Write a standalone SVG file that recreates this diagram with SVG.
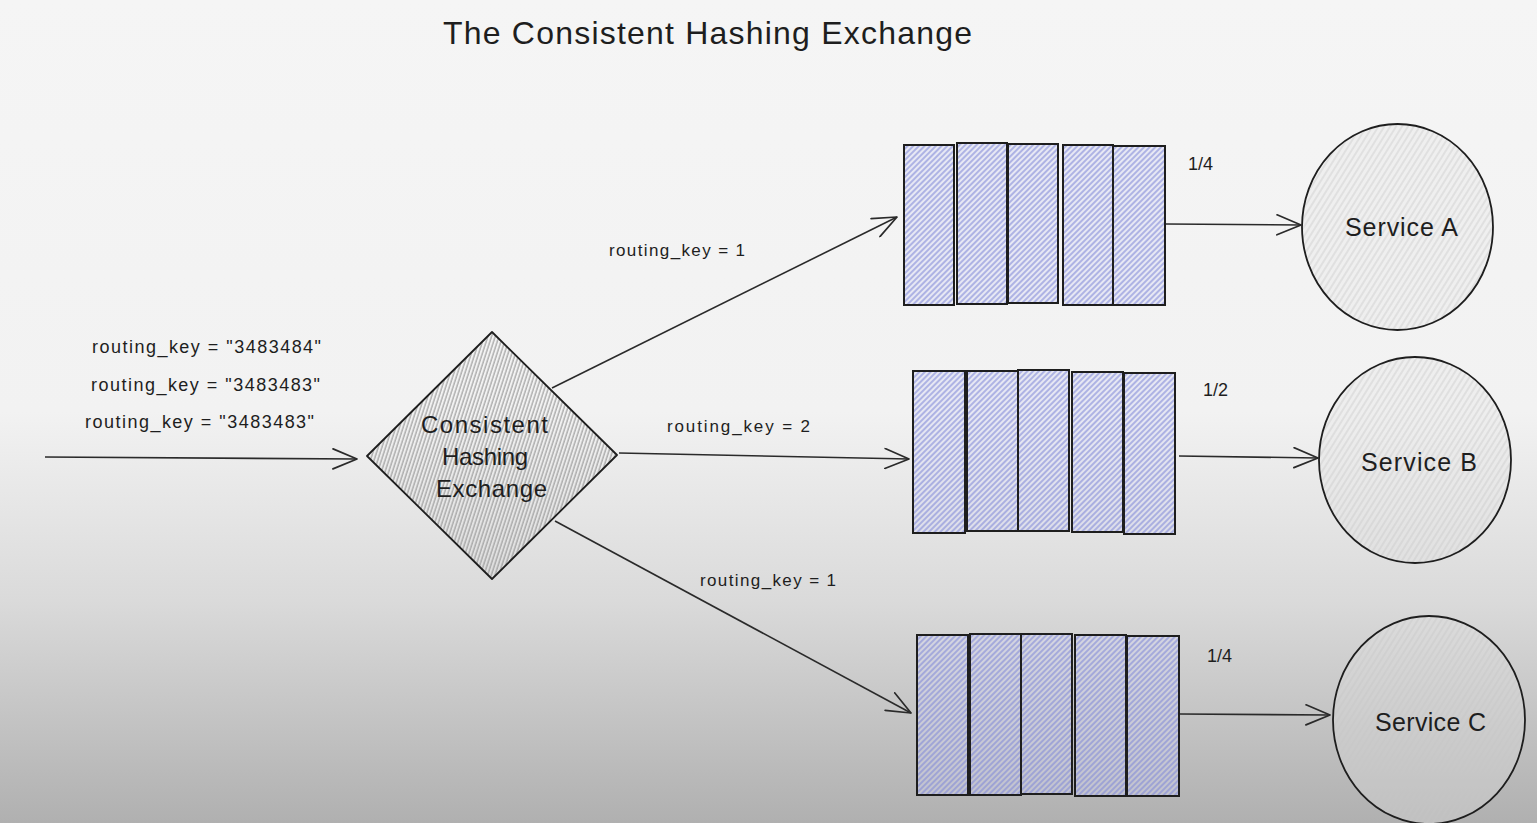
<svg xmlns="http://www.w3.org/2000/svg" width="1537" height="823" viewBox="0 0 1537 823">
<style>
  .txt{font-family:"Liberation Sans",Arial,sans-serif;fill:#1e1e1e}
  .cell{fill:url(#hBlue);stroke:#1e1e1e;stroke-width:2}
  .conn{fill:none;stroke:#2a2a2a;stroke-width:1.6;marker-end:url(#arr)}
  .svc{fill:url(#hGray);stroke:#1e1e1e;stroke-width:1.8}
</style>
<defs>
  <linearGradient id="bg" gradientUnits="userSpaceOnUse" x1="0" y1="0" x2="0" y2="823">
    <stop offset="0" stop-color="#f5f5f5"/>
    <stop offset="0.5" stop-color="#f2f2f2"/>
    <stop offset="0.73" stop-color="#dadada"/>
    <stop offset="1" stop-color="#b0b0b0"/>
  </linearGradient>
  <pattern id="hBlue" width="4" height="4" patternUnits="userSpaceOnUse" patternTransform="rotate(45)">
    <rect width="4" height="4" fill="#d4d8f6" fill-opacity="0.4"/>
    <line x1="1" y1="0" x2="1" y2="4" stroke="#8189d8" stroke-width="1.5" stroke-opacity="0.75"/>
  </pattern>
  <pattern id="hDia" width="3.5" height="4" patternUnits="userSpaceOnUse" patternTransform="rotate(18)">
    <line x1="1" y1="0" x2="1" y2="4" stroke="#9a9a9a" stroke-width="1.4" stroke-opacity="0.8"/>
  </pattern>
  <pattern id="hGray" width="5" height="5" patternUnits="userSpaceOnUse" patternTransform="rotate(32)">
    <rect width="5" height="5" fill="#e6e6e6" fill-opacity="0.3"/>
    <line x1="1" y1="0" x2="1" y2="5" stroke="#c4c4c4" stroke-width="1.2" stroke-opacity="0.6"/>
  </pattern>
  <marker id="arr" markerUnits="userSpaceOnUse" viewBox="0 0 26 22" markerWidth="26" markerHeight="22" refX="25" refY="11" orient="auto">
    <path d="M1,1 L25,11 L1,21" fill="none" stroke="#2a2a2a" stroke-width="1.7" stroke-linecap="round" stroke-linejoin="round"/>
  </marker>
</defs>

<rect width="1537" height="823" fill="url(#bg)"/>

<g id="title">
  <text class="txt" x="443" y="44" font-size="32" textLength="529" lengthAdjust="spacing">The Consistent Hashing Exchange</text>
</g>

<g id="connectors">
  <path class="conn" d="M45,457 L357,459"/>
  <path class="conn" d="M552,388 L897,217"/>
  <path class="conn" d="M619,453 L909,459"/>
  <path class="conn" d="M555,521 L911,713"/>
  <path class="conn" d="M1166,224 L1301,225"/>
  <path class="conn" d="M1179,456 L1318,458"/>
  <path class="conn" d="M1180,714 L1330,715"/>
</g>

<g id="input-labels">
  <text class="txt" x="92" y="353" font-size="18" textLength="229" lengthAdjust="spacing">routing_key = "3483484"</text>
  <text class="txt" x="91" y="391" font-size="18" textLength="229" lengthAdjust="spacing">routing_key = "3483483"</text>
  <text class="txt" x="85" y="428" font-size="18" textLength="229" lengthAdjust="spacing">routing_key = "3483483"</text>
</g>

<g id="edge-labels">
  <text class="txt" x="609" y="256" font-size="17" textLength="136" lengthAdjust="spacing">routing_key = 1</text>
  <text class="txt" x="667" y="432" font-size="17" textLength="143" lengthAdjust="spacing">routing_key = 2</text>
  <text class="txt" x="700" y="586" font-size="17" textLength="136" lengthAdjust="spacing">routing_key = 1</text>
</g>

<g id="exchange">
  <path d="M492,332 L617,455 L492,579 L367,456 Z" fill="url(#hDia)" stroke="#1e1e1e" stroke-width="1.8" stroke-linejoin="round"/>
  <text class="txt" x="421" y="433" font-size="24" textLength="127" lengthAdjust="spacing">Consistent</text>
  <text class="txt" x="442" y="465" font-size="24" textLength="86" lengthAdjust="spacing">Hashing</text>
  <text class="txt" x="436" y="497" font-size="24" textLength="111" lengthAdjust="spacing">Exchange</text>
</g>

<g id="queue-a">
  <rect class="cell" x="904" y="145" width="50" height="160"/>
  <rect class="cell" x="957" y="143" width="50" height="161"/>
  <rect class="cell" x="1008" y="144" width="50" height="159"/>
  <rect class="cell" x="1063" y="145" width="50" height="160"/>
  <rect class="cell" x="1113" y="146" width="52" height="159"/>
  <text class="txt" x="1188" y="170" font-size="18">1/4</text>
</g>

<g id="queue-b">
  <rect class="cell" x="913" y="371" width="52" height="162"/>
  <rect class="cell" x="967" y="371" width="51" height="160"/>
  <rect class="cell" x="1018" y="370" width="51" height="161"/>
  <rect class="cell" x="1072" y="372" width="51" height="160"/>
  <rect class="cell" x="1124" y="373" width="51" height="161"/>
  <text class="txt" x="1203" y="396" font-size="18">1/2</text>
</g>

<g id="queue-c">
  <rect class="cell" x="917" y="635" width="51" height="160"/>
  <rect class="cell" x="970" y="634" width="51" height="161"/>
  <rect class="cell" x="1021" y="634" width="51" height="160"/>
  <rect class="cell" x="1075" y="635" width="51" height="161"/>
  <rect class="cell" x="1127" y="636" width="52" height="160"/>
  <text class="txt" x="1207" y="662" font-size="18">1/4</text>
</g>

<g id="service-a">
  <ellipse class="svc" cx="1397.5" cy="227" rx="95.5" ry="103"/>
  <text class="txt" x="1345" y="236" font-size="25" textLength="113" lengthAdjust="spacing">Service A</text>
</g>

<g id="service-b">
  <ellipse class="svc" cx="1415" cy="460" rx="96" ry="103"/>
  <text class="txt" x="1361" y="471" font-size="25" textLength="116" lengthAdjust="spacing">Service B</text>
</g>

<g id="service-c">
  <ellipse class="svc" cx="1429" cy="720" rx="96" ry="104"/>
  <text class="txt" x="1375" y="731" font-size="25" textLength="111" lengthAdjust="spacing">Service C</text>
</g>
</svg>
